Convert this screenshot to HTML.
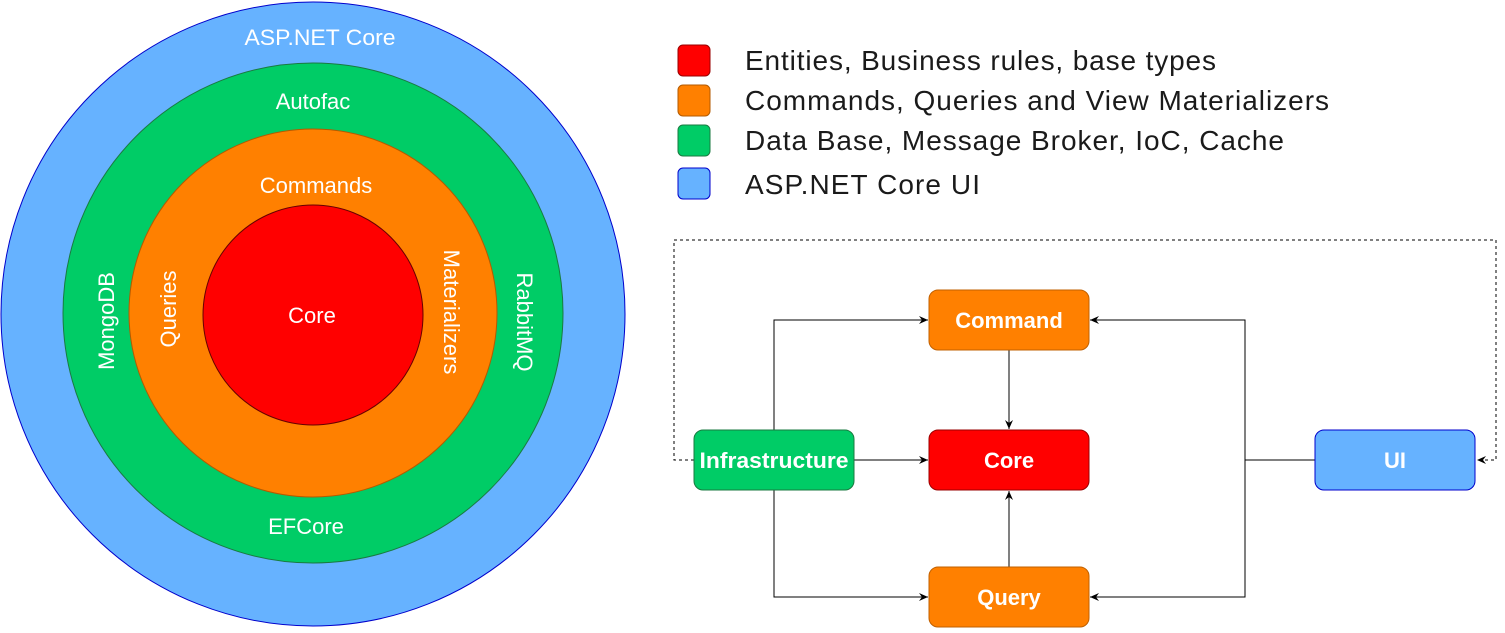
<!DOCTYPE html>
<html><head><style>
html,body{margin:0;padding:0;background:#fff;}
body{width:1505px;height:628px;overflow:hidden;font-family:"Liberation Sans",Arial,sans-serif;}
</style></head><body>
<svg width="1505" height="628" viewBox="0 0 1505 628" xmlns="http://www.w3.org/2000/svg" font-family="Liberation Sans, Arial, sans-serif">
<defs>
<marker id="a" markerWidth="10" markerHeight="10" refX="9" refY="5" orient="auto" markerUnits="userSpaceOnUse">
<path d="M0,1 L9,5 L0,9 L3,5 z" fill="#000"/></marker>
</defs>
<circle cx="313" cy="314" r="312" fill="#66b2ff" stroke="#0000cc" stroke-width="1"/>
<circle cx="313" cy="313" r="250" fill="#00cc66" stroke="#1a7a40" stroke-width="1"/>
<circle cx="313" cy="313" r="184" fill="#ff8000" stroke="#b35a00" stroke-width="1"/>
<circle cx="313" cy="315" r="110" fill="#ff0000" stroke="#660000" stroke-width="1"/>
<g fill="#fff" font-size="22" text-anchor="middle">
<text x="320" y="45" textLength="151" lengthAdjust="spacingAndGlyphs">ASP.NET Core</text>
<text x="313" y="109">Autofac</text>
<text x="316" y="193">Commands</text>
<text x="312" y="323">Core</text>
<text x="306" y="534">EFCore</text>
<text transform="translate(114,321) rotate(-90)">MongoDB</text>
<text transform="translate(176,309) rotate(-90)">Queries</text>
<text transform="translate(444,312) rotate(90)">Materializers</text>
<text transform="translate(517,322) rotate(90)">RabbitMQ</text>
</g>
<rect x="678" y="45" width="32" height="31" rx="5" fill="#ff0000" stroke="#990000"/>
<rect x="678" y="85" width="32" height="31" rx="5" fill="#ff8000" stroke="#b35a00"/>
<rect x="678" y="125" width="32" height="31" rx="5" fill="#00cc66" stroke="#1a7a40"/>
<rect x="678" y="168" width="32" height="31" rx="5" fill="#66b2ff" stroke="#0000cc"/>
<g font-size="28" fill="#1a1a1a" lengthAdjust="spacingAndGlyphs">
<text x="745" y="70" textLength="471">Entities, Business rules, base types</text>
<text x="745" y="110" textLength="584">Commands, Queries and View Materializers</text>
<text x="745" y="150" textLength="539">Data Base, Message Broker, IoC, Cache</text>
<text x="745" y="194" textLength="235">ASP.NET Core UI</text>
</g>
<path d="M694,460 H674 V240 H1496 V460 H1477" fill="none" stroke="#000" stroke-dasharray="3,3" marker-end="url(#a)"/>
<g fill="none" stroke="#000" stroke-width="1">
<path d="M774,430 V320 H928" marker-end="url(#a)"/>
<path d="M774,490 V597 H928" marker-end="url(#a)"/>
<path d="M854,460 H928" marker-end="url(#a)"/>
<path d="M1009,350 V429" marker-end="url(#a)"/>
<path d="M1009,567 V491" marker-end="url(#a)"/>
<path d="M1315,460 H1245 V320 H1090" marker-end="url(#a)"/>
<path d="M1245,460 V597 H1090" marker-end="url(#a)"/>
</g>
<rect x="929" y="290" width="160" height="60" rx="9" fill="#ff8000" stroke="#c06000"/>
<rect x="929" y="430" width="160" height="60" rx="9" fill="#ff0000" stroke="#990000"/>
<rect x="929" y="567" width="160" height="60" rx="9" fill="#ff8000" stroke="#c06000"/>
<rect x="694" y="430" width="160" height="60" rx="9" fill="#00cc66" stroke="#1a7a40"/>
<rect x="1315" y="430" width="160" height="60" rx="9" fill="#66b2ff" stroke="#0000cc"/>
<g fill="#fff" font-size="22" font-weight="bold" text-anchor="middle">
<text x="1009" y="328">Command</text>
<text x="1009" y="468">Core</text>
<text x="1009" y="605">Query</text>
<text x="774" y="468" textLength="149" lengthAdjust="spacingAndGlyphs">Infrastructure</text>
<text x="1395" y="468">UI</text>
</g>
</svg>
</body></html>
